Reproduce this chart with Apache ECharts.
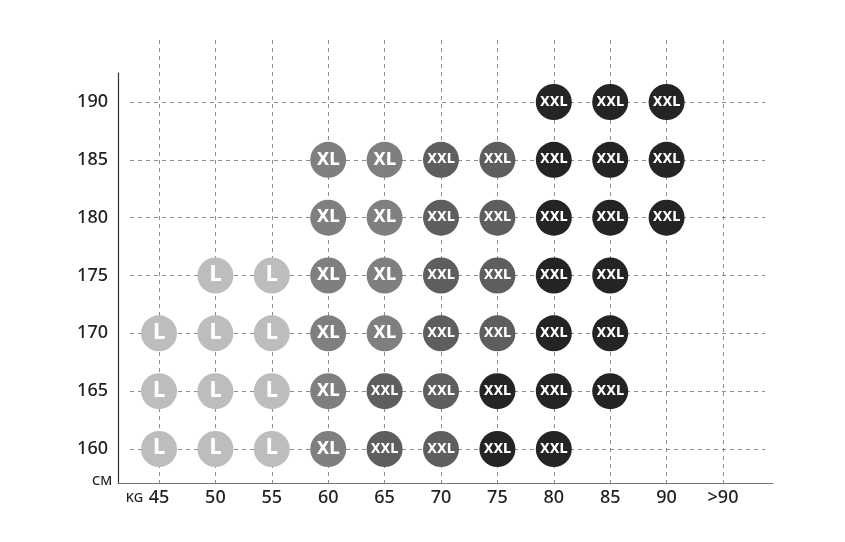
<!DOCTYPE html>
<html>
<head>
<meta charset="utf-8">
<script src="https://cdn.jsdelivr.net/npm/echarts@6/dist/echarts.min.js"></script>
<style>
  html, body { margin: 0; padding: 0; background: #fff; }
  #main { width: 845px; height: 542px; }
</style>
</head>
<body>
<div id="main"></div>
<script>
// 体重分类 (KG) 和 身高刻度 (CM)
const weights = ['45', '50', '55', '60', '65', '70', '75', '80', '85', '90', '>90'];
const heightTicks = [160, 165, 170, 175, 180, 185, 190];

// 每个尺码的点: [体重, 身高]
const sizeL = [
  ['45', 160], ['50', 160], ['55', 160],
  ['45', 165], ['50', 165], ['55', 165],
  ['45', 170], ['50', 170], ['55', 170],
  ['50', 175], ['55', 175]
];
const sizeXL = [
  ['60', 160], ['60', 165], ['60', 170], ['65', 170],
  ['60', 175], ['65', 175], ['60', 180], ['65', 180],
  ['60', 185], ['65', 185]
];
const sizeXXLGray = [
  ['65', 160], ['70', 160], ['65', 165], ['70', 165],
  ['70', 170], ['75', 170], ['70', 175], ['75', 175],
  ['70', 180], ['75', 180], ['70', 185], ['75', 185]
];
const sizeXXLDark = [
  ['75', 160], ['80', 160], ['75', 165], ['80', 165], ['85', 165],
  ['80', 170], ['85', 170], ['80', 175], ['85', 175],
  ['80', 180], ['85', 180], ['90', 180],
  ['80', 185], ['85', 185], ['90', 185],
  ['80', 190], ['85', 190], ['90', 190]
];

const chart = echarts.init(document.getElementById('main'), null, { renderer: 'canvas' });
const dash = { color: '#8c8c8c', width: 1, type: [4, 4] };
const textFont = 'Noto Sans';

function sizeSeries(name, data, color, fontSize) {
  return {
    name: name,
    type: 'scatter',
    xAxisIndex: 0,
    yAxisIndex: 0,
    data: data,
    clip: false,
    symbol: 'circle',
    symbolSize: 36,
    itemStyle: { color: color, opacity: 1 },
    label: {
      show: true,
      position: 'inside',
      formatter: name,
      color: '#fff',
      fontFamily: 'DejaVu Sans Condensed',
      fontWeight: 'bold',
      fontSize: fontSize
    },
    z: 5
  };
}

const option = {
  animation: false,
  backgroundColor: '#fff',
  grid: [
    { left: 159, right: 122, top: 102, bottom: 93 },  // 圆点
    { left: 159, right: 122, top: 40, bottom: 59 },   // 竖虚线 + 体重标签
    { left: 130, right: 80, top: 102, bottom: 93 },   // 横虚线 + 身高标签
    { left: 118, right: 72, top: 73, bottom: 59 }     // 坐标轴线
  ],
  xAxis: [
    { gridIndex: 0, type: 'category', data: weights, boundaryGap: false, show: false },
    {
      gridIndex: 1, type: 'category', data: weights, boundaryGap: false,
      axisLine: { show: false }, axisTick: { show: false },
      splitLine: { show: true, lineStyle: dash },
      axisLabel: {
        margin: 6,
        interval: 0,
        color: '#222',
        fontFamily: textFont,
        fontWeight: 500,
        fontSize: 18,
        formatter: function (v, i) {
          return i === 0 ? '{kg|KG}{v|' + v + '}{pad|}' : v;
        },
        rich: {
          kg: { fontSize: 13, width: 23, align: 'left', color: '#222', fontFamily: textFont, fontWeight: 500 },
          v: { fontSize: 18, color: '#222', fontFamily: textFont, fontWeight: 500 },
          pad: { width: 23 }
        }
      }
    },
    { gridIndex: 2, type: 'value', show: false },
    {
      gridIndex: 3, type: 'value',
      axisLine: { show: true, lineStyle: { color: '#777', width: 1 } },
      axisTick: { show: false }, axisLabel: { show: false }, splitLine: { show: false }
    }
  ],
  yAxis: [
    { gridIndex: 0, type: 'value', min: 160, max: 190, show: false },
    { gridIndex: 1, type: 'value', show: false },
    {
      gridIndex: 2, type: 'value', min: heightTicks[0], max: heightTicks[heightTicks.length - 1], interval: 5,
      axisLine: { show: false }, axisTick: { show: false },
      splitLine: { show: true, lineStyle: dash },
      axisLabel: { margin: 22, color: '#222', fontFamily: textFont, fontWeight: 500, fontSize: 18 }
    },
    {
      gridIndex: 3, type: 'value',
      axisLine: { show: true, onZero: false, lineStyle: { color: '#333', width: 1.2 } },
      axisTick: { show: false }, axisLabel: { show: false }, splitLine: { show: false },
      name: 'CM',
      nameLocation: 'start',
      nameGap: -8,
      nameTextStyle: { color: '#222', fontFamily: textFont, fontWeight: 500, fontSize: 13, padding: [0, 32, 0, 0] }
    }
  ],
  series: [
    sizeSeries('L', sizeL, '#bdbdbd', 21),
    sizeSeries('XL', sizeXL, '#7f7f7f', 18),
    sizeSeries('XXL', sizeXXLGray, '#5e5e5e', 14),
    sizeSeries('XXL', sizeXXLDark, '#242424', 14)
  ]
};

chart.setOption(option);
</script>
</body>
</html>
